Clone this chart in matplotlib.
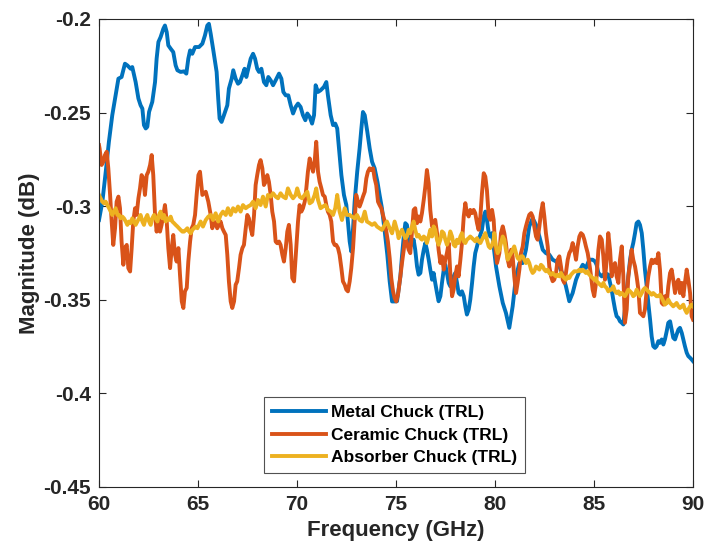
import matplotlib
matplotlib.use("Agg")
import matplotlib.pyplot as plt

metal_f = [60.00,60.17,60.34,60.50,60.67,60.84,60.98,61.14,61.31,61.43,61.60,61.68,61.85,61.99,62.10,62.19,62.27,62.36,62.44,62.53,62.69,62.83,62.91,63.00,63.11,63.25,63.33,63.42,63.50,63.62,63.75,63.87,63.96,64.12,64.29,64.41,64.51,64.60,64.71,64.85,
65.05,65.22,65.35,65.47,65.55,65.64,65.76,65.86,65.94,66.02,66.09,66.19,66.31,66.48,66.56,66.70,66.78,66.90,67.02,67.12,67.24,67.35,67.44,67.54,67.66,67.78,67.88,67.99,68.08,68.20,68.33,68.45,68.55,68.67,68.79,68.92,69.09,69.21,69.31,69.43,69.56,69.68,69.80,69.93,
70.05,70.18,70.30,70.42,70.52,70.64,70.76,70.86,70.94,71.06,71.19,71.36,71.48,71.56,71.70,71.82,71.93,72.03,72.15,72.24,72.37,72.49,72.57,72.66,72.74,72.83,72.91,73.04,73.16,73.25,73.33,73.42,73.55,73.67,73.79,73.92,74.06,74.17,74.29,74.43,74.56,74.68,74.80,74.93,
75.05,75.13,75.22,75.30,75.39,75.47,75.55,75.64,75.72,75.81,75.89,75.97,76.06,76.14,76.23,76.31,76.40,76.48,76.56,76.65,76.73,76.82,76.90,76.98,77.07,77.15,77.24,77.32,77.41,77.49,77.57,77.66,77.74,77.83,77.91,77.99,78.08,78.16,78.25,78.33,78.42,78.50,78.58,78.67,78.75,78.84,78.92,79.00,79.09,79.17,79.26,79.34,79.43,79.51,79.59,79.68,79.76,79.85,79.93,
80.05,80.22,80.39,80.55,80.72,80.89,81.06,81.23,81.40,81.56,81.73,81.90,82.07,82.24,82.41,82.57,82.74,82.91,83.08,83.25,83.42,83.58,83.75,83.92,84.09,84.26,84.43,84.59,84.76,84.93,
85.05,85.13,85.22,85.39,85.55,85.72,85.81,85.89,85.97,86.06,86.14,86.23,86.31,86.40,86.48,86.56,86.65,86.73,86.82,86.90,86.98,87.07,87.15,87.24,87.32,87.41,87.49,87.57,87.66,87.74,87.83,87.91,87.99,88.08,88.16,88.25,88.33,88.42,88.50,88.58,88.67,88.75,88.84,88.92,89.00,89.09,89.17,89.26,89.34,89.43,89.51,89.59,89.68,89.76,89.85,89.93,90.00]
metal_db = [-0.3074,-0.2976,-0.2816,-0.2656,-0.2514,-0.2408,-0.2319,-0.2310,-0.2239,-0.2248,-0.2266,-0.2257,-0.2337,-0.2425,-0.2461,-0.2479,-0.2567,-0.2585,-0.2576,-0.2496,-0.2443,-0.2337,-0.2212,-0.2123,-0.2097,-0.2052,-0.2035,-0.2070,-0.2141,-0.2159,-0.2177,-0.2248,-0.2274,-0.2283,-0.2280,-0.2292,-0.2212,-0.2168,-0.2186,-0.2150,
-0.2150,-0.2132,-0.2088,-0.2035,-0.2026,-0.2079,-0.2159,-0.2230,-0.2283,-0.2425,-0.2532,-0.2550,-0.2514,-0.2461,-0.2372,-0.2319,-0.2274,-0.2319,-0.2346,-0.2337,-0.2301,-0.2266,-0.2310,-0.2266,-0.2212,-0.2186,-0.2212,-0.2266,-0.2283,-0.2266,-0.2337,-0.2354,-0.2310,-0.2328,-0.2354,-0.2328,-0.2292,-0.2319,-0.2390,-0.2408,-0.2408,-0.2461,-0.2505,-0.2470,
-0.2452,-0.2470,-0.2514,-0.2541,-0.2505,-0.2523,-0.2559,-0.2514,-0.2354,-0.2390,-0.2381,-0.2363,-0.2337,-0.2408,-0.2514,-0.2567,-0.2559,-0.2585,-0.2727,-0.2834,-0.2940,-0.2994,-0.3082,-0.3189,-0.3242,-0.3118,-0.2976,-0.2816,-0.2692,-0.2585,-0.2497,-0.2514,-0.2603,-0.2692,-0.2763,-0.2798,-0.2869,-0.2940,-0.3012,-0.3136,-0.3260,-0.3402,-0.3509,-0.3509,
-0.3508,-0.3446,-0.3375,-0.3268,-0.3162,-0.3091,-0.3100,-0.3162,-0.3215,-0.3197,-0.3179,-0.3233,-0.3322,-0.3366,-0.3357,-0.3286,-0.3233,-0.3197,-0.3233,-0.3286,-0.3339,-0.3393,-0.3357,-0.3410,-0.3464,-0.3508,-0.3481,-0.3410,-0.3339,-0.3313,-0.3357,-0.3410,-0.3428,-0.3410,-0.3375,-0.3357,-0.3410,-0.3464,-0.3473,-0.3455,-0.3481,-0.3535,-0.3579,-0.3552,-0.3499,-0.3410,-0.3322,-0.3251,-0.3215,-0.3179,-0.3153,-0.3126,-0.3055,-0.3029,-0.3073,-0.3144,-0.3162,-0.3144,-0.3215,
-0.3322,-0.3428,-0.3517,-0.3570,-0.3650,-0.3535,-0.3375,-0.3304,-0.3304,-0.3233,-0.3108,-0.3064,-0.3100,-0.3162,-0.3233,-0.3251,-0.3259,-0.3286,-0.3295,-0.3322,-0.3366,-0.3428,-0.3508,-0.3464,-0.3393,-0.3348,-0.3313,-0.3330,-0.3286,-0.3286,
-0.3295,-0.3313,-0.3357,-0.3375,-0.3357,-0.3366,-0.3410,-0.3446,-0.3499,-0.3552,-0.3588,-0.3597,-0.3615,-0.3623,-0.3632,-0.3552,-0.3446,-0.3375,-0.3286,-0.3233,-0.3197,-0.3144,-0.3091,-0.3082,-0.3100,-0.3144,-0.3233,-0.3339,-0.3428,-0.3517,-0.3606,-0.3695,-0.3748,-0.3757,-0.3748,-0.3721,-0.3730,-0.3712,-0.3739,-0.3712,-0.3668,-0.3623,-0.3615,-0.3659,-0.3703,-0.3712,-0.3686,-0.3659,-0.3650,-0.3677,-0.3712,-0.3748,-0.3783,-0.3801,-0.3810,-0.3819,-0.3828]

ceramic_f = [60.00,60.03,60.13,60.22,60.30,60.39,60.47,60.56,60.64,60.72,60.81,60.89,60.98,61.06,61.14,61.23,61.31,61.40,61.48,61.57,61.65,61.73,61.82,61.90,61.99,62.07,62.15,62.24,62.32,62.41,62.49,62.58,62.66,62.74,62.83,62.91,63.00,63.08,63.16,63.25,63.33,63.42,63.50,63.59,63.67,63.75,63.84,63.92,64.01,64.09,64.18,64.26,64.34,64.43,64.51,64.60,64.68,64.76,64.85,64.93,65.02,65.10,
65.22,65.39,65.52,65.64,65.72,65.81,65.89,65.97,66.06,66.14,66.23,66.31,66.40,66.48,66.56,66.65,66.73,66.82,66.90,66.98,67.07,67.15,67.24,67.32,67.41,67.49,67.57,67.66,67.74,67.83,67.91,67.99,68.08,68.16,68.25,68.33,68.42,68.50,68.58,68.67,68.75,68.84,68.92,69.00,69.09,69.17,69.26,69.34,69.43,69.51,69.59,69.68,69.76,69.85,
69.96,70.05,70.13,70.22,70.30,70.39,70.47,70.55,70.64,70.72,70.81,70.89,70.97,71.06,71.14,71.23,71.31,71.40,71.48,71.56,71.65,71.73,71.82,71.90,71.98,72.07,72.15,72.24,72.32,72.41,72.49,72.57,72.66,72.74,72.83,72.91,72.99,73.08,73.16,73.25,73.33,73.42,73.50,73.58,73.67,73.75,73.84,73.92,74.00,74.09,74.17,74.26,74.34,74.43,74.51,74.59,74.68,74.76,74.85,74.93,75.01,75.10,
75.22,75.30,75.39,75.47,75.55,75.64,75.72,75.81,75.89,75.97,76.06,76.14,76.23,76.31,76.40,76.48,76.56,76.65,76.73,76.82,76.90,76.98,77.07,77.15,77.24,77.32,77.41,77.49,77.57,77.66,77.74,77.83,77.91,77.99,78.08,78.16,78.25,78.33,78.42,78.50,78.58,78.67,78.75,78.84,78.92,79.00,79.09,79.17,79.26,79.34,79.43,79.51,79.59,79.68,79.76,79.85,79.93,80.01,80.10,
80.22,80.30,80.39,80.47,80.55,80.64,80.72,80.81,80.89,80.97,81.06,81.14,81.23,81.31,81.40,81.48,81.56,81.65,81.73,81.82,81.90,81.98,82.07,82.15,82.24,82.32,82.41,82.49,82.57,82.66,82.74,82.83,82.91,82.99,83.08,83.16,83.25,83.33,83.42,83.50,83.58,83.67,83.75,83.84,83.92,84.00,84.09,84.17,84.26,84.34,84.43,84.51,84.59,84.68,84.76,84.85,84.93,85.01,85.10,
85.13,85.22,85.30,85.39,85.47,85.55,85.64,85.72,85.81,85.89,85.97,86.06,86.14,86.23,86.31,86.40,86.48,86.56,86.65,86.73,86.82,86.90,86.98,87.07,87.15,87.24,87.32,87.41,87.49,87.57,87.66,87.74,87.83,87.91,87.99,88.08,88.16,88.25,88.33,88.42,88.50,88.58,88.67,88.75,88.84,88.92,89.00,89.09,89.17,89.26,89.34,89.43,89.51,89.59,89.68,89.76,89.85,89.93,90.00]
ceramic_db = [-0.2674,-0.2692,-0.2780,-0.2763,-0.2727,-0.2709,-0.2798,-0.2940,-0.3082,-0.3207,-0.3118,-0.2976,-0.2949,-0.3011,-0.3189,-0.3313,-0.3224,-0.3207,-0.3331,-0.3349,-0.3224,-0.3082,-0.3011,-0.3047,-0.2958,-0.2905,-0.2834,-0.2852,-0.2940,-0.2834,-0.2816,-0.2780,-0.2727,-0.2834,-0.3047,-0.3136,-0.3065,-0.3136,-0.3100,-0.3047,-0.2994,-0.3082,-0.3224,-0.3331,-0.3224,-0.3154,-0.3260,-0.3296,-0.3224,-0.3367,-0.3509,-0.3544,-0.3455,-0.3437,-0.3296,-0.3189,-0.3118,-0.3100,-0.3047,-0.2940,-0.2834,-0.2816,
-0.2940,-0.2923,-0.2976,-0.3047,-0.3118,-0.3082,-0.3091,-0.3118,-0.3100,-0.3082,-0.3118,-0.3136,-0.3154,-0.3260,-0.3402,-0.3509,-0.3544,-0.3509,-0.3420,-0.3402,-0.3331,-0.3260,-0.3224,-0.3207,-0.3118,-0.3047,-0.3065,-0.3118,-0.3154,-0.3047,-0.2887,-0.2834,-0.2780,-0.2754,-0.2798,-0.2887,-0.2869,-0.2834,-0.2869,-0.2940,-0.3029,-0.3082,-0.3189,-0.3198,-0.3189,-0.3207,-0.3260,-0.3296,-0.3224,-0.3136,-0.3100,-0.3207,-0.3384,-0.3402,
-0.3224,-0.3082,-0.2994,-0.3029,-0.3011,-0.2976,-0.2905,-0.2816,-0.2745,-0.2780,-0.2816,-0.2763,-0.2656,-0.2816,-0.2869,-0.2905,-0.2940,-0.2949,-0.2994,-0.3029,-0.3047,-0.3082,-0.3189,-0.3207,-0.3207,-0.3224,-0.3260,-0.3331,-0.3402,-0.3420,-0.3446,-0.3455,-0.3402,-0.3331,-0.3224,-0.3082,-0.2940,-0.2976,-0.3002,-0.2976,-0.2949,-0.2923,-0.2852,-0.2816,-0.2798,-0.2807,-0.2798,-0.2852,-0.2887,-0.2976,-0.2994,-0.3012,-0.3047,-0.3082,-0.3136,-0.3189,-0.3278,-0.3384,-0.3455,-0.3491,-0.3509,-0.3473,
-0.3375,-0.3304,-0.3233,-0.3162,-0.3197,-0.3233,-0.3251,-0.3126,-0.3020,-0.3011,-0.3091,-0.3055,-0.3082,-0.3037,-0.2966,-0.2895,-0.2807,-0.2878,-0.3020,-0.3108,-0.3091,-0.3073,-0.3144,-0.3233,-0.3304,-0.3268,-0.3339,-0.3286,-0.3251,-0.3197,-0.3357,-0.3481,-0.3446,-0.3375,-0.3322,-0.3375,-0.3286,-0.3197,-0.3055,-0.2984,-0.3037,-0.3055,-0.3020,-0.3037,-0.3020,-0.3037,-0.3091,-0.3126,-0.3055,-0.2931,-0.2824,-0.2842,-0.2913,-0.3055,-0.3073,-0.3020,-0.3073,-0.3215,-0.3304,
-0.3250,-0.3144,-0.3108,-0.3144,-0.3197,-0.3286,-0.3322,-0.3233,-0.3268,-0.3375,-0.3464,-0.3410,-0.3339,-0.3251,-0.3215,-0.3144,-0.3108,-0.3073,-0.3046,-0.3037,-0.3055,-0.3108,-0.3162,-0.3179,-0.3108,-0.3037,-0.2984,-0.3055,-0.3144,-0.3215,-0.3322,-0.3375,-0.3401,-0.3393,-0.3357,-0.3286,-0.3268,-0.3322,-0.3393,-0.3410,-0.3357,-0.3286,-0.3251,-0.3233,-0.3197,-0.3233,-0.3286,-0.3215,-0.3162,-0.3144,-0.3153,-0.3179,-0.3215,-0.3251,-0.3304,-0.3375,-0.3446,-0.3481,-0.3410,
-0.3375,-0.3233,-0.3162,-0.3179,-0.3268,-0.3393,-0.3286,-0.3144,-0.3233,-0.3375,-0.3322,-0.3304,-0.3375,-0.3410,-0.3286,-0.3215,-0.3375,-0.3623,-0.3552,-0.3375,-0.3304,-0.3233,-0.3286,-0.3322,-0.3375,-0.3446,-0.3570,-0.3579,-0.3588,-0.3552,-0.3446,-0.3375,-0.3322,-0.3286,-0.3304,-0.3286,-0.3304,-0.3251,-0.3339,-0.3517,-0.3526,-0.3481,-0.3517,-0.3428,-0.3357,-0.3339,-0.3393,-0.3464,-0.3410,-0.3393,-0.3464,-0.3410,-0.3481,-0.3410,-0.3339,-0.3393,-0.3464,-0.3588,-0.3606]

absorber_f = [60.00,60.08,60.17,60.25,60.34,60.42,60.51,60.59,60.67,60.76,60.84,60.93,61.01,61.09,61.18,61.26,61.35,61.43,61.52,61.60,61.68,61.77,61.85,61.94,62.02,62.10,62.19,62.27,62.36,62.44,62.53,62.61,62.69,62.78,62.86,62.95,63.03,63.11,63.20,63.28,63.37,63.45,63.54,63.62,63.70,63.79,63.87,63.96,64.04,64.12,64.21,64.29,64.38,64.46,64.55,64.63,64.71,64.80,64.88,64.97,
65.13,65.25,65.39,65.52,65.64,65.76,65.89,66.02,66.14,66.26,66.40,66.51,66.65,66.77,66.90,67.02,67.15,67.27,67.41,67.52,67.66,67.78,67.91,68.03,68.16,68.28,68.42,68.53,68.67,68.79,68.92,69.04,69.17,69.29,69.43,69.54,69.68,69.80,69.93,
70.01,70.13,70.25,70.39,70.52,70.64,70.76,70.89,70.97,71.06,71.19,71.31,71.43,71.56,71.70,71.82,71.93,72.03,72.15,72.27,72.41,72.52,72.66,72.78,72.91,73.03,73.16,73.28,73.42,73.53,73.67,73.79,73.92,74.04,74.17,74.29,74.43,74.54,74.68,74.80,74.93,75.07,
75.13,75.22,75.30,75.39,75.47,75.55,75.64,75.72,75.81,75.89,75.97,76.06,76.14,76.23,76.31,76.40,76.48,76.56,76.65,76.73,76.82,76.90,76.98,77.07,77.15,77.24,77.32,77.41,77.49,77.57,77.66,77.74,77.83,77.91,77.99,78.08,78.16,78.25,78.33,78.42,78.50,78.58,78.67,78.75,78.84,78.92,79.00,79.09,79.17,79.26,79.34,79.43,79.51,79.59,79.68,79.76,79.85,79.93,
79.96,80.05,80.13,80.22,80.30,80.39,80.47,80.55,80.64,80.72,80.81,80.89,80.97,81.06,81.14,81.23,81.31,81.40,81.48,81.56,81.65,81.73,81.82,81.90,81.98,82.07,82.15,82.24,82.32,82.41,82.49,82.57,82.66,82.74,82.83,82.91,82.99,83.08,83.16,83.25,83.33,83.42,83.50,83.58,83.67,83.75,83.84,83.92,84.00,84.09,84.17,84.26,84.34,84.43,84.51,84.59,84.68,84.76,84.85,84.93,85.01,85.10,
85.13,85.22,85.30,85.39,85.47,85.55,85.64,85.72,85.81,85.89,85.97,86.06,86.14,86.23,86.31,86.40,86.48,86.56,86.65,86.73,86.82,86.90,86.98,87.07,87.15,87.24,87.32,87.41,87.49,87.57,87.66,87.74,87.83,87.91,87.99,88.08,88.16,88.25,88.33,88.42,88.50,88.58,88.67,88.75,88.84,88.92,89.00,89.09,89.17,89.26,89.34,89.43,89.51,89.59,89.68,89.76,89.85,89.93,90.00]
absorber_db = [-0.2940,-0.2958,-0.2976,-0.2985,-0.2976,-0.2994,-0.3011,-0.3029,-0.3047,-0.3029,-0.3011,-0.3047,-0.3047,-0.3065,-0.3056,-0.3065,-0.3082,-0.3100,-0.3082,-0.3091,-0.3065,-0.3082,-0.3100,-0.3082,-0.3065,-0.3047,-0.3082,-0.3100,-0.3065,-0.3047,-0.3082,-0.3100,-0.3065,-0.3047,-0.3065,-0.3082,-0.3047,-0.3029,-0.3065,-0.3047,-0.3082,-0.3065,-0.3074,-0.3056,-0.3082,-0.3091,-0.3100,-0.3109,-0.3118,-0.3127,-0.3136,-0.3136,-0.3127,-0.3118,-0.3136,-0.3145,-0.3127,-0.3118,-0.3109,-0.3118,
-0.3082,-0.3109,-0.3074,-0.3056,-0.3047,-0.3074,-0.3038,-0.3082,-0.3047,-0.3029,-0.3047,-0.3011,-0.3047,-0.3011,-0.3029,-0.3002,-0.3029,-0.2994,-0.3011,-0.3002,-0.2994,-0.2976,-0.3011,-0.2967,-0.2994,-0.2949,-0.3002,-0.2940,-0.2949,-0.2931,-0.2949,-0.2958,-0.2931,-0.2949,-0.2958,-0.2905,-0.2940,-0.2958,-0.2940,
-0.2905,-0.2949,-0.2958,-0.2940,-0.2923,-0.2985,-0.2976,-0.2940,-0.2905,-0.2967,-0.3011,-0.3002,-0.2994,-0.3020,-0.3029,-0.3047,-0.3011,-0.2940,-0.3029,-0.3074,-0.3011,-0.3047,-0.3047,-0.3056,-0.3065,-0.3047,-0.3074,-0.3082,-0.3029,-0.3082,-0.3091,-0.3100,-0.3091,-0.3109,-0.3118,-0.3127,-0.3100,-0.3082,-0.3118,-0.3145,-0.3082,-0.3136,
-0.3171,-0.3144,-0.3126,-0.3153,-0.3171,-0.3162,-0.3126,-0.3144,-0.3108,-0.3082,-0.3126,-0.3162,-0.3153,-0.3171,-0.3179,-0.3162,-0.3171,-0.3197,-0.3162,-0.3126,-0.3162,-0.3108,-0.3126,-0.3179,-0.3206,-0.3179,-0.3135,-0.3144,-0.3179,-0.3206,-0.3179,-0.3135,-0.3162,-0.3206,-0.3215,-0.3179,-0.3197,-0.3162,-0.3144,-0.3188,-0.3197,-0.3179,-0.3171,-0.3162,-0.3171,-0.3179,-0.3188,-0.3171,-0.3188,-0.3197,-0.3179,-0.3162,-0.3144,-0.3179,-0.3215,-0.3224,-0.3206,-0.3179,
-0.3144,-0.3215,-0.3251,-0.3233,-0.3197,-0.3162,-0.3179,-0.3233,-0.3286,-0.3268,-0.3251,-0.3233,-0.3215,-0.3251,-0.3277,-0.3286,-0.3268,-0.3268,-0.3286,-0.3304,-0.3286,-0.3304,-0.3339,-0.3357,-0.3348,-0.3322,-0.3330,-0.3339,-0.3313,-0.3322,-0.3339,-0.3348,-0.3339,-0.3357,-0.3366,-0.3357,-0.3366,-0.3375,-0.3366,-0.3375,-0.3357,-0.3375,-0.3384,-0.3393,-0.3375,-0.3384,-0.3366,-0.3357,-0.3348,-0.3348,-0.3348,-0.3339,-0.3348,-0.3339,-0.3348,-0.3357,-0.3348,-0.3366,-0.3375,-0.3384,-0.3393,-0.3384,
-0.3401,-0.3410,-0.3419,-0.3428,-0.3410,-0.3428,-0.3437,-0.3455,-0.3446,-0.3446,-0.3428,-0.3455,-0.3464,-0.3455,-0.3473,-0.3464,-0.3473,-0.3481,-0.3464,-0.3446,-0.3455,-0.3464,-0.3481,-0.3473,-0.3446,-0.3464,-0.3481,-0.3464,-0.3446,-0.3437,-0.3446,-0.3455,-0.3464,-0.3473,-0.3464,-0.3473,-0.3481,-0.3481,-0.3473,-0.3490,-0.3508,-0.3526,-0.3517,-0.3499,-0.3517,-0.3526,-0.3535,-0.3526,-0.3517,-0.3535,-0.3544,-0.3535,-0.3526,-0.3552,-0.3570,-0.3552,-0.3535,-0.3526,-0.3535]

series_names = ["Metal Chuck (TRL)", "Ceramic Chuck (TRL)", "Absorber Chuck (TRL)"]
colors = ["#0072BD", "#D95319", "#EDB120"]
x_ticks = [60, 65, 70, 75, 80, 85, 90]
y_ticks = [-0.45, -0.4, -0.35, -0.3, -0.25, -0.2]
y_ticklabels = ["-0.45", "-0.4", "-0.35", "-0.3", "-0.25", "-0.2"]

plt.rcParams['font.family'] = ['Liberation Sans', 'DejaVu Sans']
plt.rcParams['font.weight'] = 'bold'

fig = plt.figure(figsize=(7.19, 5.51), dpi=100)
ax = fig.add_axes([0.1377, 0.1162, 0.8262, 0.8494])

for f, d, name, c in zip([metal_f, ceramic_f, absorber_f],
                         [metal_db, ceramic_db, absorber_db],
                         series_names, colors):
    ax.plot(f, d, color=c, lw=2.8, label=name, solid_joinstyle='round')

ax.set_xlim(60, 90)
ax.set_ylim(-0.45, -0.2)
ax.set_xticks(x_ticks)
ax.set_xticklabels([str(t) for t in x_ticks])
ax.set_yticks(y_ticks)
ax.set_yticklabels(y_ticklabels)
ax.tick_params(direction='in', top=True, right=True, labelsize=15, length=5,
               width=0.8, colors='#262626', pad=6)
for lbl in ax.get_xticklabels() + ax.get_yticklabels():
    lbl.set_fontweight('bold')
for s in ax.spines.values():
    s.set_color('#262626')
    s.set_linewidth(0.8)

ax.set_xlabel("Frequency (GHz)", fontsize=16, fontweight='bold', color='#262626', labelpad=4)
ax.set_ylabel("Magnitude (dB)", fontsize=16, fontweight='bold', color='#262626', labelpad=2)

leg = ax.legend(loc='lower center', bbox_to_anchor=(0.498, 0.03),
                prop={'weight': 'bold', 'size': 12.5}, frameon=True, fancybox=False,
                edgecolor='#262626', handlelength=3.1, borderpad=0.45, labelspacing=0.42,
                handletextpad=0.3, borderaxespad=0)
leg.get_frame().set_linewidth(0.8)

fig.savefig("out.png", dpi=100)
